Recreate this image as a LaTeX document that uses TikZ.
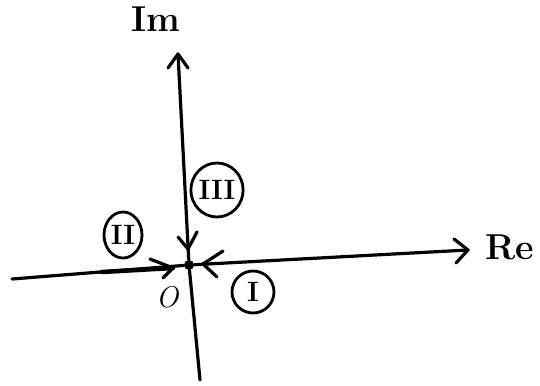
\documentclass[tikz,border=0pt]{standalone}
\usetikzlibrary{shapes.geometric}
\begin{document}
\begin{tikzpicture}[x=1pt,y=-1pt,
  ax/.style={line width=3.2pt,line cap=round,line join=round},
  roman/.style={ellipse,draw,line width=2.8pt,inner sep=0pt,font=\fontsize{28}{28}\selectfont\bfseries},
  lbl/.style={font=\fontsize{36}{36}\selectfont\bfseries,inner sep=0pt}]
\useasboundingbox (0,0) rectangle (540,385);
% origin
\node[circle,fill,inner sep=0pt,minimum size=10pt] (o) at (189,265) {};
\coordinate (xl) at (12,279);
\coordinate (xr) at (468,250);
\coordinate (yt) at (178,54);
\coordinate (yb) at (200,380);
% axes
\draw[ax] (xl) -- (o) -- (xr);
\draw[ax] (xr) ++(-14,-11) -- (xr) -- ++(-12,13);
\draw[ax] (yb) -- (o) -- (yt);
\draw[ax] (yt) ++(-10,14) -- (yt) -- ++(10,14);
% labels
\node[lbl] (im) at (156,19) {Im};
\node[lbl] (re) at (510,247) {Re};
\node[font=\fontsize{30}{30}\selectfont\itshape,inner sep=0pt] (zero) at (167,297) {O};
% circled numerals
\node[roman,minimum width=38pt,minimum height=46pt] (c2) at (123,235) {II};
\node[roman,minimum width=48pt,minimum height=54pt] (c3) at (217,190) {III};
\node[roman,minimum width=42pt,minimum height=42pt] (c1) at (253,292) {I};
% flow arrows
\coordinate (t2) at (173,268);
\coordinate (s2) at (102,272);
\draw[line width=4.5pt,line cap=round] (s2) -- (t2);
\draw[ax] (150,259) -- (t2) -- (163,278);
\coordinate (t3) at (188,249);
\draw[ax] (178,237) -- (t3) -- (197,232);
\coordinate (t1) at (203,264);
\draw[ax] (223,251) -- (t1) -- (217,277);
\end{tikzpicture}
\end{document}
